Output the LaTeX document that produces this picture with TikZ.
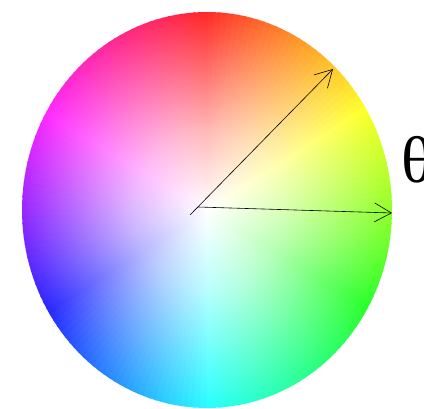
\documentclass[tikz,border=0pt]{standalone}
\usepackage{fontspec}
\newfontfamily\thetafont{Liberation Serif}
\usetikzlibrary{arrows.meta,fadings}
\pgfdeclareradialshading{wheelshade}{\pgfpoint{0bp}{0bp}}{color(0bp)=(white); color(10bp)=(white!72!black); color(29bp)=(black); color(50bp)=(black)}
\pgfdeclarefading{wheelfade}{\pgfuseshading{wheelshade}}

\begin{document}
\begin{tikzpicture}[x=1pt,y=1pt,
  hand/.style={-{Straight Barb[length=17pt,width=19pt]}, line width=0.6pt}]
\useasboundingbox (0,0) rectangle (424,409);
\def\cx{207}
\def\cy{199}
\def\rx{185}
\def\ry{198}
            %hue wedges, red on top
\begin{scope}[shift={(\cx,\cy)}, xscale=\rx, yscale=\ry]
\foreach \a in {0,2,...,358}{
\pgfmathsetmacro{\hue}{mod(450-\a,360)}
\definecolor{wedge}{Hsb}{\hue,1,1}
\fill [wedge] (0,0) -- (\a-0.2:1) -- (\a+2.2:1) -- cycle;
}
\end{scope}
            %white towards the middle
\fill [white, path fading = wheelfade] (\cx,\cy) ellipse [x radius=\rx, y radius=\ry];
            %the two arrows
\coordinate (tail) at (190,194);
\coordinate (hub) at (198,202);
\coordinate (slant) at (333,340);
\coordinate (flat) at (392,196);
\draw [hand] (tail) -- (slant);
\draw [hand] (hub) -- (flat);
\node [anchor=west, inner sep=0] (theta) at (401,249) {\thetafont\fontsize{66}{66}\selectfont θ};
\end{tikzpicture}
\end{document}
